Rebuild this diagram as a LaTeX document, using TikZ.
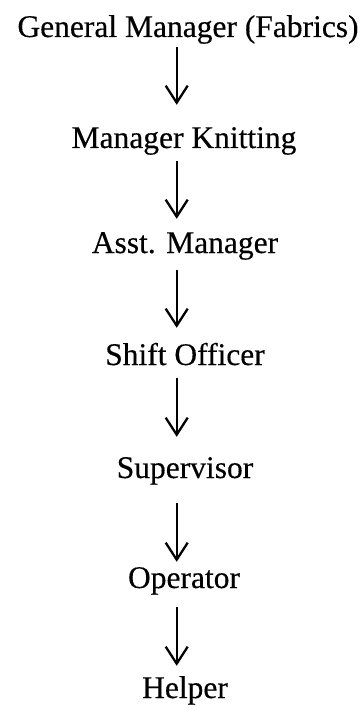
\documentclass[tikz,border=0pt]{standalone}
\usepackage{fontspec}
\setmainfont{Liberation Serif}[FakeBold=0.35]
\usetikzlibrary{arrows.meta}
\begin{document}
\begin{tikzpicture}[x=1pt,y=-1pt,
  rank/.style={anchor=base,inner sep=0pt,text height=22pt,text depth=7pt,
    font=\fontsize{31.5}{36}\selectfont},
  flow/.style={line width=2.3pt,-{Straight Barb[length=17pt,width=22pt,line width=2.3pt]}}]
  \useasboundingbox (0,0) rectangle (363,711);
  \coordinate (spine) at (176.7,0);
  \node[rank] (gm)  at (188,37)  {General Manager (Fabrics)};
  \node[rank] (mk)  at (184,148) {Manager Knitting};
  \node[rank] (am)  at (185,253) {Asst. Manager};
  \node[rank] (so)  at (185,365) {Shift Officer};
  \node[rank] (sup) at (185,478) {Supervisor};
  \node[rank] (op)  at (184,588) {Operator};
  \node[rank] (hlp) at (185,698) {Helper};
  \draw[flow,shorten <=3pt,shorten >=21pt]  (gm.south -| spine)  -- (mk.north -| spine);
  \draw[flow,shorten <=6pt,shorten >=12pt]  (mk.south -| spine)  -- (am.north -| spine);
  \draw[flow,shorten <=10pt,shorten >=15pt] (am.south -| spine)  -- (so.north -| spine);
  \draw[flow,shorten <=6pt,shorten >=19pt]  (so.south -| spine)  -- (sup.north -| spine);
  \draw[flow,shorten <=18pt,shorten >=4pt]  (sup.south -| spine) -- (op.north -| spine);
  \draw[flow,shorten <=12pt,shorten >=10pt] (op.south -| spine)  -- (hlp.north -| spine);
\end{tikzpicture}
\end{document}
